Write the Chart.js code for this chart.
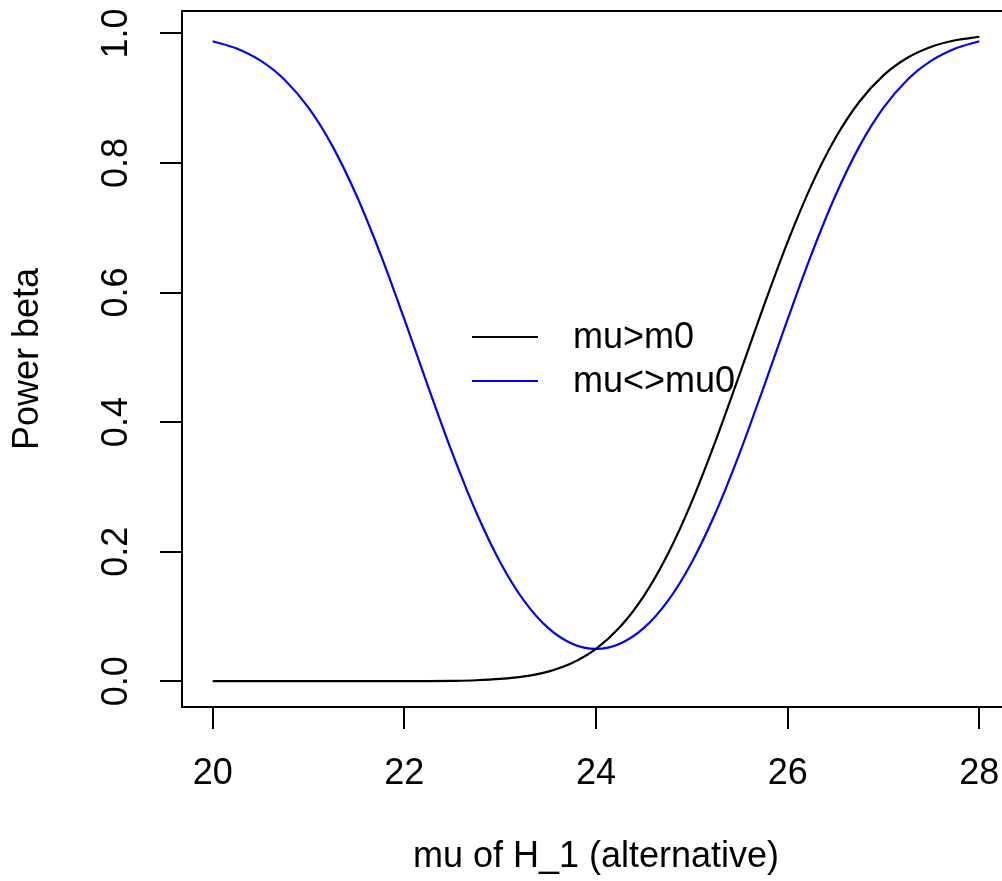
<!DOCTYPE html>
<html>
<head>
<meta charset="utf-8">
<script src="https://cdn.jsdelivr.net/npm/chart.js@4.4.1/dist/chart.umd.min.js"></script>
<style>
    html, body { margin: 0; padding: 0; background: #fff; overflow: hidden; }
    #wrap { width: 1012px; height: 881px; }
</style>
</head>
<body>
<div id="wrap"><canvas id="power-chart" width="1012" height="881"></canvas></div>
<script>
// mu of H_1, read at steps of 0.25
const muValues = [
    20, 20.25, 20.5, 20.75, 21, 21.25, 21.5, 21.75, 22, 22.25, 22.5, 22.75,
    23, 23.25, 23.5, 23.75, 24, 24.25, 24.5, 24.75, 25, 25.25, 25.5, 25.75,
    26, 26.25, 26.5, 26.75, 27, 27.25, 27.5, 27.75, 28
];
// one-sided test, mu>m0 (black)
const powerOneSided = [
    0, 0, 0, 0, 0, 0, 0.00001, 0.00003, 0.00009, 0.00024, 0.00063, 0.0015,
    0.0035, 0.0074, 0.0149, 0.0282, 0.05, 0.0836, 0.1318, 0.1964, 0.2773, 0.3717, 0.4745, 0.5791,
    0.6784, 0.7663, 0.839, 0.895, 0.9354, 0.9625, 0.9795, 0.9895, 0.9949
];
// two-sided test, mu<>mu0 (blue)
const powerTwoSided = [
    0.988, 0.9769, 0.9581, 0.9287, 0.8854, 0.8261, 0.7502, 0.6597, 0.5589, 0.4542, 0.3526, 0.2608,
    0.1838, 0.1241, 0.0823, 0.058, 0.05, 0.058, 0.0823, 0.1241, 0.1838, 0.2608, 0.3526, 0.4542,
    0.5589, 0.6597, 0.7502, 0.8261, 0.8854, 0.9287, 0.9581, 0.9769, 0.988
];
const seriesLabels = ['mu>m0', 'mu<>mu0'];
const seriesColors = ['#000000', '#0000ff'];
const xTicks = [20, 22, 24, 26, 28];
const yTicks = [0, 0.2, 0.4, 0.6, 0.8, 1.0];

const FONT = '"Liberation Sans", Arial, Helvetica, sans-serif';

// R-style box around the plot region + legend without border
const boxPlugin = {
    id: 'rbox',
    afterDraw(chart) {
        const { ctx, chartArea } = chart;
        ctx.save();
        ctx.strokeStyle = '#000';
        ctx.lineWidth = 2;
        ctx.strokeRect(chartArea.left, chartArea.top, chartArea.right - chartArea.left, chartArea.bottom - chartArea.top);

        ctx.font = '36px ' + FONT;
        ctx.textBaseline = 'middle';
        ctx.textAlign = 'left';
        chart.data.datasets.forEach((ds, i) => {
            const y = 337 + i * 44;
            ctx.strokeStyle = ds.borderColor;
            ctx.beginPath();
            ctx.moveTo(472, y);
            ctx.lineTo(538, y);
            ctx.stroke();
            ctx.fillStyle = '#000';
            ctx.fillText(ds.label, 573, y + 1);
        });
        ctx.restore();
    }
};

// no extra room for labels that hang over the plot edges
const noOverhang = s => {
    s.paddingLeft = 0;
    s.paddingRight = 0;
    s.paddingTop = 0;
    s.paddingBottom = 0;
};

const toPoints = ys => muValues.map((x, i) => ({ x, y: ys[i] }));

new Chart(document.getElementById('power-chart'), {
    type: 'line',
    data: {
        datasets: [
            {
                label: seriesLabels[0],
                data: toPoints(powerOneSided),
                borderColor: seriesColors[0],
                borderWidth: 2.2,
                pointRadius: 0,
                cubicInterpolationMode: 'monotone',
                fill: false
            },
            {
                label: seriesLabels[1],
                data: toPoints(powerTwoSided),
                borderColor: seriesColors[1],
                borderWidth: 2.2,
                pointRadius: 0,
                cubicInterpolationMode: 'monotone',
                fill: false
            }
        ]
    },
    options: {
        responsive: false,
        animation: false,
        layout: { padding: { top: 11, right: 2, left: 0, bottom: 0 } },
        plugins: {
            legend: { display: false },
            tooltip: { enabled: false }
        },
        scales: {
            x: {
                type: 'linear',
                min: 19.68,
                max: 28.32,
                afterBuildTicks: s => { s.ticks = xTicks.map(v => ({ value: v })); },
                afterFit: s => { s.height = 174; noOverhang(s); },
                border: { display: false },
                grid: { drawOnChartArea: false, drawTicks: true, tickLength: 22, color: '#000', lineWidth: 2 },
                ticks: {
                    color: '#000',
                    font: { family: FONT, size: 36 },
                    padding: 23,
                    maxRotation: 0,
                    autoSkip: false,
                    callback: v => String(v)
                },
                title: {
                    display: true,
                    text: 'mu of H_1 (alternative)',
                    color: '#000',
                    font: { family: FONT, size: 36 },
                    padding: { top: 0, bottom: 2 }
                }
            },
            y: {
                min: -0.0398,
                max: 1.0347,
                afterBuildTicks: s => { s.ticks = yTicks.map(v => ({ value: v })); },
                afterFit: s => { s.width = 182; noOverhang(s); },
                border: { display: false },
                grid: { drawOnChartArea: false, drawTicks: true, tickLength: 22, color: '#000', lineWidth: 2 },
                ticks: {
                    color: '#000',
                    font: { family: FONT, size: 36 },
                    padding: 18,
                    minRotation: 90,
                    maxRotation: 90,
                    crossAlign: 'center',
                    autoSkip: false,
                    callback: v => v.toFixed(1)
                },
                title: {
                    display: true,
                    text: 'Power beta',
                    color: '#000',
                    font: { family: FONT, size: 36 },
                    padding: { top: 6, bottom: 0 }
                }
            }
        }
    },
    plugins: [boxPlugin]
});
</script>
</body>
</html>
